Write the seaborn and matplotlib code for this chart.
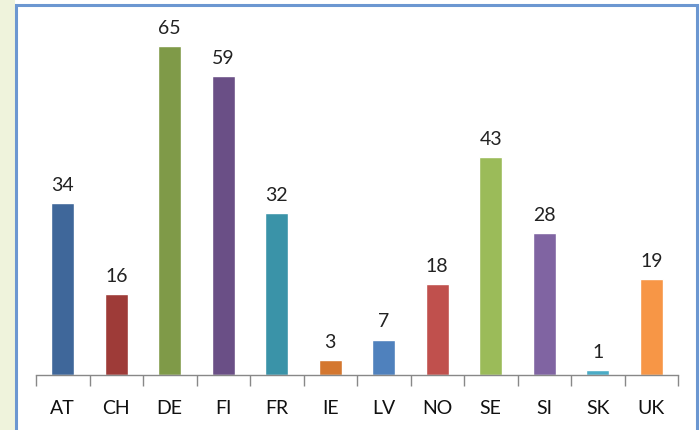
import matplotlib
matplotlib.use("Agg")
import matplotlib.pyplot as plt
import seaborn as sns
import pandas as pd
from matplotlib.patches import Rectangle

countries = ["AT", "CH", "DE", "FI", "FR", "IE", "LV", "NO", "SE", "SI", "SK", "UK"]
values = [34, 16, 65, 59, 32, 3, 7, 18, 43, 28, 1, 19]
colors = ["#3F679A", "#9E3B38", "#7F9A48", "#6A4F86", "#3A93A8", "#D4772F",
          "#4F81BD", "#C0504D", "#9BBB59", "#8064A2", "#4BACC6", "#F79646"]

df = pd.DataFrame({"country": countries, "value": values})

sns.set_style("white")
plt.rcParams['font.family'] = ['Lato', 'DejaVu Sans']

fig = plt.figure(figsize=(7, 4.31), dpi=100)
fig.patch.set_facecolor("white")

# light green strip on the left, blue frame round the chart
fig.patches.append(Rectangle((0, 0), 15/700, 1, transform=fig.transFigure,
                             facecolor="#EFF3DC", edgecolor="none", zorder=-2))
fig.patches.append(Rectangle((16/700, -0.01), 681/700, 1 - 6/431 + 0.01,
                             transform=fig.transFigure, facecolor="white",
                             edgecolor="#6C97D1", linewidth=2.2, zorder=-1))

ax = fig.add_axes([36/700, 55/431, 642/700, (376 - 21.8)/431])
ax.set_zorder(1)
ax.set_facecolor("none")
sns.barplot(data=df, x="country", y="value", hue="country", palette=colors,
            width=0.43, legend=False, ax=ax, saturation=1)

ax.set_ylim(0, 70)
ax.set_xlim(-0.5, len(countries) - 0.5)
for i, v in enumerate(values):
    ax.text(i, v + 2.0, str(v), ha="center", va="bottom", fontsize=14, color="#222222")

for s in ["top", "right", "left"]:
    ax.spines[s].set_visible(False)
ax.spines["bottom"].set_color("#888888")
ax.spines["bottom"].set_linewidth(1)
ax.set_yticks([])
ax.set_xticks([i - 0.5 for i in range(len(countries) + 1)], minor=True)
ax.tick_params(axis="x", which="both", bottom=True)
ax.tick_params(axis="x", which="minor", length=8, color="#888888", width=1)
ax.tick_params(axis="x", which="major", length=0, labelsize=14, pad=17, colors="#111111")
ax.set_xlabel("")
ax.set_ylabel("")

plt.savefig("out.png", dpi=100)
